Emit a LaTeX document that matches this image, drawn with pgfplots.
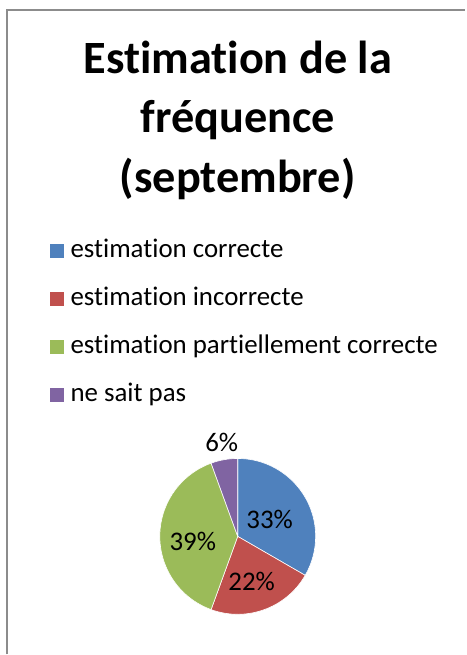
\documentclass[border=0pt]{standalone}
\usepackage{pgfplots}
\pgfplotsset{compat=1.18}
\usepackage{pgfplotstable}
\usepackage{fontspec}
\setmainfont{Carlito}[Ligatures={NoCommon,NoRequired,NoContextual}]
\definecolor{cA}{HTML}{4F81BD}
\definecolor{cB}{HTML}{C0504D}
\definecolor{cC}{HTML}{9BBB59}
\definecolor{cD}{HTML}{8064A2}
\definecolor{frame}{HTML}{8C8C8C}
\pgfplotstableread{
id count
1 6
2 4
3 7
4 1
}\piedata
\pgfplotstablegetelem{0}{count}\of\piedata \let\vA\pgfplotsretval
\pgfplotstablegetelem{1}{count}\of\piedata \let\vB\pgfplotsretval
\pgfplotstablegetelem{2}{count}\of\piedata \let\vC\pgfplotsretval
\pgfplotstablegetelem{3}{count}\of\piedata \let\vD\pgfplotsretval
\pgfmathsetmacro\tot{\vA+\vB+\vC+\vD}
\pgfmathsetmacro\aA{90}
\pgfmathsetmacro\aB{\aA-360*\vA/\tot}
\pgfmathsetmacro\aC{\aB-360*\vB/\tot}
\pgfmathsetmacro\aD{\aC-360*\vC/\tot}
\pgfmathsetmacro\aE{\aD-360*\vD/\tot}
\pgfplotsset{
  sq/.style={legend image code/.code={\fill[##1] (0bp,-7.5bp) rectangle (15bp,7.5bp);}},
}
\begin{document}
\begin{tikzpicture}
\begin{axis}[
  scale only axis, width=466bp, height=655bp,
  xmin=0, xmax=466, ymin=0, ymax=655,
  hide axis, clip=false,
  legend cell align=left,
  legend style={draw=none, fill=none, at={(axis cs:49,655-240)}, anchor=north west,
    inner sep=0pt, outer sep=0pt, row sep=26bp, column sep=6bp,
    font=\fontsize{27}{30}\selectfont,
    nodes={inner sep=0pt, text height=18bp, text depth=4bp}},
]
\path (axis cs:0,0) rectangle (axis cs:466,655);
\draw[frame, line width=1.5bp] (axis cs:7,0) -- (axis cs:7,645) -- (axis cs:466,645);
\addplot[fill=cA, draw=white, line width=0.6bp, sq] coordinates {(238,118)} -- ++(\aA:78bp) arc[start angle=\aA, end angle=\aB, radius=78bp] -- cycle;
\addlegendentry{estimation correcte}
\addplot[fill=cB, draw=white, line width=0.6bp, sq] coordinates {(238,118)} -- ++(\aB:78bp) arc[start angle=\aB, end angle=\aC, radius=78bp] -- cycle;
\addlegendentry{estimation incorrecte}
\addplot[fill=cC, draw=white, line width=0.6bp, sq] coordinates {(238,118)} -- ++(\aC:78bp) arc[start angle=\aC, end angle=\aD, radius=78bp] -- cycle;
\addlegendentry{estimation partiellement correcte}
\addplot[fill=cD, draw=white, line width=0.6bp, sq] coordinates {(238,118)} -- ++(\aD:78bp) arc[start angle=\aD, end angle=\aE, radius=78bp] -- cycle;
\addlegendentry{ne sait pas}
\node[font=\fontsize{27}{30}\selectfont] at (axis cs:270,135) {33\%};
\node[font=\fontsize{27}{30}\selectfont] at (axis cs:252,73) {22\%};
\node[font=\fontsize{27}{30}\selectfont] at (axis cs:193,113) {39\%};
\node[font=\fontsize{27}{30}\selectfont] at (axis cs:222,212) {6\%};
\node[font=\bfseries\fontsize{46.5}{50}\selectfont, anchor=base, inner sep=0pt] at (axis cs:238,581) {Estimation de la};
\node[font=\bfseries\fontsize{46.5}{50}\selectfont, anchor=base, inner sep=0pt] at (axis cs:238,522) {fréquence};
\node[font=\bfseries\fontsize{46.5}{50}\selectfont, anchor=base, inner sep=0pt] at (axis cs:238,462) {(septembre)};
\end{axis}
\end{tikzpicture}
\end{document}
